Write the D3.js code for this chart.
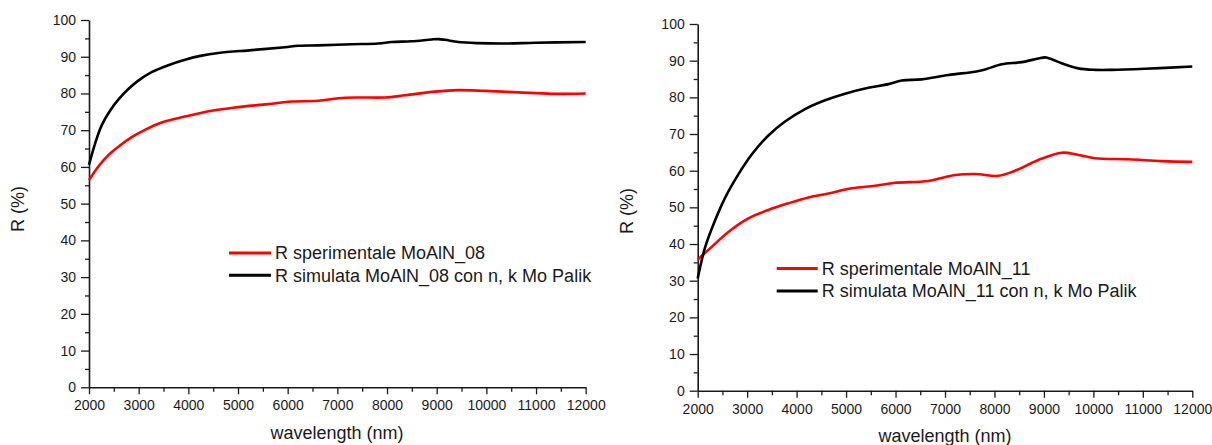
<!DOCTYPE html>
<html>
<head>
<meta charset="utf-8">
<script src="https://cdn.jsdelivr.net/npm/d3@7"></script>
<style>
  html, body { margin: 0; padding: 0; background: #fff; }
  svg { display: block; font-family: Arial, "Liberation Sans", sans-serif; }
</style>
</head>
<body>
<svg id="chart" width="1212" height="445"></svg>
<script>
// ---- Data ----
const xTicks = [2000, 3000, 4000, 5000, 6000, 7000, 8000, 9000, 10000, 11000, 12000];
const yTicks = [0, 10, 20, 30, 40, 50, 60, 70, 80, 90, 100];
const xTitle = "wavelength (nm)";
const yTitle = "R (%)";

// Left panel: MoAlN_08
const wlExp08 = [2000, 2188, 2389, 2590, 2859, 3127, 3463, 3933, 4470, 4939, 5610, 6080, 6617, 7020, 7422, 7959, 8362, 8966, 9436, 9973, 10644, 11315, 12000];
const rExp08  = [56.4, 60.1, 63.2, 65.5, 68.1, 70.1, 72.1, 73.7, 75.3, 76.2, 77.1, 77.8, 78.0, 78.7, 78.9, 78.9, 79.5, 80.5, 80.9, 80.7, 80.3, 79.9, 80.0];
const wlSim08 = [2000, 2121, 2255, 2423, 2590, 2792, 2993, 3262, 3597, 3933, 4268, 4604, 5275, 5946, 6214, 6617, 7288, 7825, 8094, 8496, 8899, 9033, 9167, 9436, 9838, 10375, 10979, 12000];
const rSim08  = [60.6, 66.3, 71.3, 75.3, 78.3, 81.2, 83.5, 85.8, 87.7, 89.2, 90.3, 91.0, 91.8, 92.6, 93.0, 93.1, 93.4, 93.6, 94.0, 94.2, 94.7, 94.8, 94.6, 94.0, 93.7, 93.6, 93.8, 94.0];

// Right panel: MoAlN_11
const wlExp11 = [2000, 2216, 2620, 3024, 3429, 3833, 4238, 4642, 5114, 5586, 5990, 6664, 7203, 7608, 8079, 8416, 8888, 9360, 9697, 10034, 10708, 11382, 12000];
const rExp11  = [35.8, 38.4, 43.3, 47.0, 49.3, 51.1, 52.7, 53.8, 55.2, 55.9, 56.7, 57.2, 58.8, 59.1, 58.6, 60.0, 62.9, 64.9, 64.3, 63.4, 63.1, 62.6, 62.4];
const wlSim11 = [2000, 2148, 2350, 2553, 2822, 3092, 3429, 3766, 4170, 4575, 4979, 5451, 5855, 6125, 6529, 7069, 7608, 7810, 8147, 8551, 8888, 9023, 9158, 9360, 9697, 10034, 10371, 11045, 12000];
const rSim11  = [30.6, 39.0, 46.4, 52.6, 59.0, 64.4, 69.6, 73.4, 76.8, 79.2, 81.0, 82.6, 83.6, 84.6, 84.9, 86.1, 87.0, 87.6, 89.0, 89.6, 90.6, 90.9, 90.4, 89.3, 87.9, 87.5, 87.5, 87.8, 88.4];

const legendExp08 = "R sperimentale MoAlN_08";
const legendSim08 = "R simulata MoAlN_08 con n, k Mo Palik";
const legendExp11 = "R sperimentale MoAlN_11";
const legendSim11 = "R simulata MoAlN_11 con n, k Mo Palik";

const colorExp = "#ff0000";
const colorSim = "#000000";

// ---- Drawing ----
const svg = d3.select("#chart");
const textColor = "#1a1a1a";

function panel(cfg) {
  const g = svg.append("g");
  const x = d3.scaleLinear().domain([2000, 12000]).range([cfg.x0, cfg.x1]);
  const y = d3.scaleLinear().domain([0, 100]).range([cfg.y0, cfg.y1]);

  // minor ticks
  const xMinor = d3.range(2500, 12000, 1000);
  const yMinor = d3.range(5, 100, 10);
  g.append("g").attr("transform", `translate(0,${cfg.y0})`)
    .call(d3.axisBottom(x).tickValues(xMinor).tickSize(4.5).tickFormat(""))
    .call(s => s.select(".domain").remove())
    .call(s => s.selectAll("line").attr("stroke", textColor).attr("stroke-width", 1.3));
  g.append("g").attr("transform", `translate(${cfg.x0},0)`)
    .call(d3.axisLeft(y).tickValues(yMinor).tickSize(4).tickFormat(""))
    .call(s => s.select(".domain").remove())
    .call(s => s.selectAll("line").attr("stroke", textColor).attr("stroke-width", 1.3));

  // major axes
  const xa = g.append("g").attr("transform", `translate(0,${cfg.y0})`)
    .call(d3.axisBottom(x).tickValues(xTicks).tickSize(7).tickSizeOuter(0).tickPadding(6).tickFormat(d3.format("d")));
  const ya = g.append("g").attr("transform", `translate(${cfg.x0},0)`)
    .call(d3.axisLeft(y).tickValues(yTicks).tickSize(8).tickSizeOuter(0).tickPadding(5).tickFormat(d3.format("d")));
  [xa, ya].forEach(a => {
    a.select(".domain").attr("stroke", textColor).attr("stroke-width", 1.6);
    a.selectAll("line").attr("stroke", textColor).attr("stroke-width", 1.3);
    a.selectAll("text").attr("fill", textColor).style("font-size", "14px");
  });

  // curves
  const line = d3.line().x(d => x(d[0])).y(d => y(d[1])).curve(d3.curveCatmullRom.alpha(0.5));
  g.append("path").datum(d3.zip(cfg.wlExp, cfg.rExp))
    .attr("fill", "none").attr("stroke", colorExp).attr("stroke-width", 2.6)
    .attr("stroke-linejoin", "round").attr("d", line);
  g.append("path").datum(d3.zip(cfg.wlSim, cfg.rSim))
    .attr("fill", "none").attr("stroke", colorSim).attr("stroke-width", 2.6)
    .attr("stroke-linejoin", "round").attr("d", line);

  // titles
  g.append("text").attr("x", cfg.xTitleX).attr("y", cfg.xTitleY)
    .attr("text-anchor", "middle").attr("fill", textColor).style("font-size", "18px").text(xTitle);
  g.append("text").attr("transform", `translate(${cfg.yTitleX},${cfg.yTitleY}) rotate(-90)`)
    .attr("text-anchor", "middle").attr("fill", textColor).style("font-size", "18px").text(yTitle);

  // legend
  const items = [[colorExp, cfg.legExp], [colorSim, cfg.legSim]];
  items.forEach((it, i) => {
    const ly = cfg.legY + i * cfg.legDy;
    g.append("line").attr("x1", cfg.legX).attr("x2", cfg.legX + cfg.legLen)
      .attr("y1", ly).attr("y2", ly).attr("stroke", it[0]).attr("stroke-width", 3);
    g.append("text").attr("x", cfg.legX + cfg.legLen + 4).attr("y", ly + 6.3)
      .attr("fill", textColor).style("font-size", "18px").text(it[1]);
  });
}

panel({
  x0: 89, x1: 585.7, y0: 387.3, y1: 20,
  wlExp: wlExp08, rExp: rExp08, wlSim: wlSim08, rSim: rSim08,
  xTitleX: 337, xTitleY: 439, yTitleX: 24, yTitleY: 209,
  legX: 229, legY: 253, legDy: 22.3, legLen: 42,
  legExp: legendExp08, legSim: legendSim08
});
panel({
  x0: 697.7, x1: 1192.3, y0: 390.7, y1: 24,
  wlExp: wlExp11, rExp: rExp11, wlSim: wlSim11, rSim: rSim11,
  xTitleX: 945, xTitleY: 442, yTitleX: 633, yTitleY: 211,
  legX: 776.7, legY: 268.5, legDy: 22.5, legLen: 41,
  legExp: legendExp11, legSim: legendSim11
});
</script>
</body>
</html>
